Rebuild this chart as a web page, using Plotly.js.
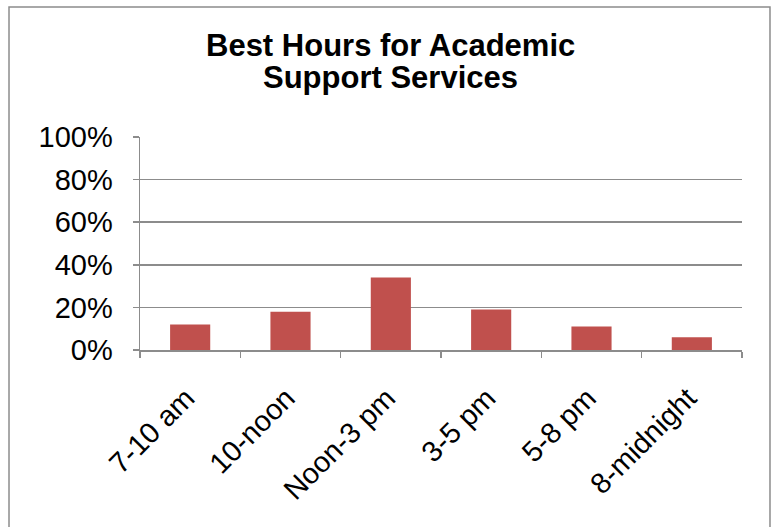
<!DOCTYPE html>
<html>
<head>
<meta charset="utf-8">
<script src="https://cdn.plot.ly/plotly-3.0.1.min.js"></script>
<style>html,body{margin:0;padding:0;background:#fff;}#chart{width:774px;height:527px;}</style>
</head>
<body>
<div id="chart"></div>
<script>
const categories = ["7-10 am", "10-noon", "Noon-3 pm", "3-5 pm", "5-8 pm", "8-midnight"];
const shares = [0.12, 0.18, 0.34, 0.19, 0.11, 0.06];
const yTicks = [0, 0.2, 0.4, 0.6, 0.8, 1.0];
const yTickLabels = ["0%", "20%", "40%", "60%", "80%", "100%"];
const titleLines = ["Best Hours for Academic", "Support Services"];

const gray = "#8c8c8c";
const fontFam = "Liberation Sans, Arial, sans-serif";
const trace = {
  type: "bar",
  x: categories,
  y: shares,
  marker: { color: "#C0504D", line: { width: 0 } },
  hoverinfo: "x+y"
};

const titleY = [1.4277, 1.2793];
const layout = {
  width: 774,
  height: 527,
  margin: { l: 140, r: 32, t: 137, b: 177, pad: 0 },
  paper_bgcolor: "#ffffff",
  plot_bgcolor: "#ffffff",
  font: { family: fontFam, color: "#000000", size: 29 },
  showlegend: false,
  bargap: 0.6,
  annotations: titleLines.map((t, i) => ({
    text: "<b>" + t + "</b>",
    xref: "paper", yref: "paper",
    x: 0.4153, y: titleY[i],
    xanchor: "center", yanchor: "middle",
    showarrow: false,
    font: { family: fontFam, size: 31, color: "#000000" }
  })),
  xaxis: {
    type: "category",
    range: [-0.5, 5.5],
    showline: true,
    linecolor: gray,
    linewidth: 1.5,
    ticks: "outside",
    tickson: "boundaries",
    ticklen: 6,
    tickcolor: gray,
    tickwidth: 1.5,
    tickangle: -45,
    showgrid: false,
    zeroline: false,
    ticklabelstandoff: 18,
    ticklabelshift: -4,
    tickfont: { size: 29, family: fontFam }
  },
  yaxis: {
    range: [0, 1],
    tickvals: yTicks,
    ticktext: yTickLabels,
    showline: true,
    linecolor: gray,
    linewidth: 1.5,
    ticks: "outside",
    ticklen: 6,
    tickcolor: gray,
    tickwidth: 1.5,
    showgrid: true,
    gridcolor: gray,
    gridwidth: 1.5,
    zeroline: false,
    ticklabelstandoff: 14,
    tickfont: { size: 29, family: fontFam }
  },
  shapes: [{
    type: "rect",
    xref: "paper", yref: "paper",
    x0: -0.2176, x1: 1.0465, y0: -0.86, y1: 1.6103,
    line: { color: gray, width: 1.5 },
    fillcolor: "rgba(0,0,0,0)",
    layer: "below"
  }]
};

Plotly.newPlot("chart", [trace], layout, { displayModeBar: false, staticPlot: true });
</script>
</body>
</html>
